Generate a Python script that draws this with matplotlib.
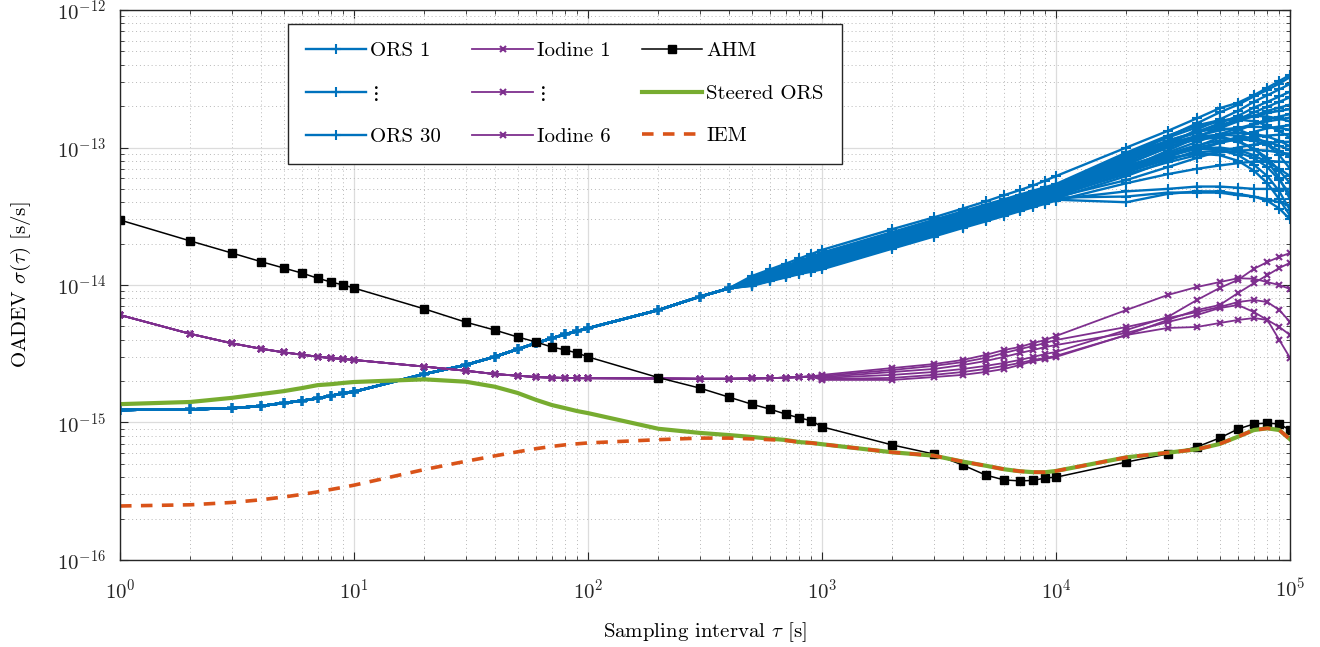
import matplotlib
matplotlib.use("Agg")
import matplotlib.pyplot as plt

plt.rcParams["font.family"] = "serif"
plt.rcParams["font.serif"] = ["cmr10", "DejaVu Serif"]
plt.rcParams["mathtext.fontset"] = "cm"
plt.rcParams["axes.formatter.use_mathtext"] = True

# sampling intervals [s]
tau = [1, 2, 3, 4, 5, 6, 7, 8, 9,
       10, 20, 30, 40, 50, 60, 70, 80, 90,
       100, 200, 300, 400, 500, 600, 700, 800, 900,
       1e3, 2e3, 3e3, 4e3, 5e3, 6e3, 7e3, 8e3, 9e3,
       1e4, 2e4, 3e4, 4e4, 5e4, 6e4, 7e4, 8e4, 9e4, 1e5]

# all deviations below are in units of 1e-15 s/s
ahm = [29.7, 20.9, 17.1, 14.8, 13.3, 12.2, 11.2, 10.5, 10.0,
       9.5, 6.7, 5.37, 4.7, 4.19, 3.85, 3.54, 3.37, 3.2,
       3.0, 2.12, 1.78, 1.53, 1.36, 1.25, 1.15, 1.08, 1.03,
       0.93, 0.686, 0.59, 0.49, 0.415, 0.382, 0.376, 0.379, 0.395,
       0.40, 0.516, 0.59, 0.664, 0.771, 0.897, 0.975, 0.99, 0.975, 0.88]

steered = [1.36, 1.41, 1.51, 1.61, 1.69, 1.78, 1.87, 1.90, 1.94,
           1.97, 2.06, 1.98, 1.82, 1.64, 1.46, 1.34, 1.27, 1.21,
           1.17, 0.90, 0.84, 0.81, 0.785, 0.763, 0.746, 0.72, 0.71,
           0.695, 0.607, 0.574, 0.519, 0.485, 0.457, 0.442, 0.435, 0.435,
           0.444, 0.558, 0.603, 0.638, 0.698, 0.789, 0.881, 0.907, 0.881, 0.755]

iem = [0.247, 0.252, 0.262, 0.274, 0.287, 0.300, 0.313, 0.326, 0.338,
       0.350, 0.455, 0.522, 0.572, 0.612, 0.645, 0.670, 0.688, 0.700,
       0.710, 0.750, 0.770, 0.770, 0.760, 0.750, 0.740, 0.720, 0.710,
       0.695, 0.607, 0.574, 0.519, 0.485, 0.457, 0.442, 0.435, 0.435,
       0.444, 0.558, 0.603, 0.638, 0.698, 0.789, 0.881, 0.907, 0.881, 0.755]

# iodine clocks: common part for tau = 1 .. 900, then one row per clock (tau = 1e3 .. 1e5)
iodine_short = [6.05, 4.41, 3.77, 3.44, 3.24, 3.11, 3.01, 2.94, 2.90,
                2.85, 2.55, 2.38, 2.25, 2.19, 2.14, 2.12, 2.11, 2.10,
                2.10, 2.09, 2.08, 2.08, 2.09, 2.10, 2.12, 2.14, 2.16]
iodine_long = [
    [2.22, 2.49, 2.66, 2.85, 3.10, 3.37, 3.54, 3.79, 3.98, 4.26, 6.58, 8.46, 9.67, 10.5, 11.2, 11.1, 10.5, 10.0, 9.35],
    [2.11, 2.22, 2.33, 2.45, 2.58, 2.71, 2.85, 3.00, 3.15, 3.26, 4.71, 5.85, 7.78, 9.51, 10.9, 13.1, 14.7, 16.0, 17.1],
    [2.04, 2.04, 2.14, 2.22, 2.33, 2.45, 2.62, 2.80, 2.90, 3.00, 4.33, 5.57, 6.58, 7.15, 8.75, 10.3, 11.8, 13.3, 14.5],
    [2.18, 2.41, 2.58, 2.75, 2.95, 3.20, 3.42, 3.60, 3.79, 3.98, 4.95, 5.75, 6.36, 6.92, 7.52, 7.78, 7.52, 6.58, 5.38],
    [2.14, 2.33, 2.45, 2.62, 2.80, 3.00, 3.20, 3.37, 3.54, 3.66, 4.48, 5.38, 6.05, 6.80, 7.15, 6.36, 5.57, 3.98, 2.95],
    [2.07, 2.11, 2.22, 2.33, 2.45, 2.58, 2.71, 2.85, 2.95, 3.05, 4.33, 4.87, 4.95, 5.29, 5.57, 5.75, 5.57, 4.95, 4.33],
]

# ORS clocks: common part for tau = 1 .. 400, then one row per clock (tau = 500 .. 1e5)
ors_short = [1.233, 1.247, 1.269, 1.318, 1.386, 1.440, 1.500, 1.566, 1.631,
             1.675, 2.253, 2.620, 3.010, 3.41, 3.78, 4.10, 4.38, 4.62,
             4.85, 6.58, 8.22, 9.46]
ors_long = [
    [11.6, 13.0, 14.3, 15.6, 16.8, 18.0, 25.5, 31.0, 36.0, 40.5, 45.0, 49.0, 53.0, 57.5, 62.0, 100, 132, 163, 193, 212, 240, 272, 305, 337],
    [10.9, 12.0, 13.1, 14.1, 15.1, 16.0, 22.5, 27.5, 32.0, 36.0, 40.0, 43.0, 46.0, 49.0, 52.0, 85, 120, 150, 180, 205, 235, 262, 292, 325],
    [10.7, 11.8, 12.8, 13.7, 14.6, 15.5, 22.0, 27.0, 31.0, 35.0, 38.0, 41.0, 44.0, 47.0, 50.0, 78, 105, 135, 160, 185, 215, 240, 265, 290],
    [11.2, 12.5, 13.7, 14.8, 15.9, 17.0, 24.0, 29.0, 33.5, 37.5, 41.0, 44.0, 47.0, 50.0, 53.0, 88, 112, 130, 150, 170, 195, 215, 235, 255],
    [10.4, 11.35, 12.2, 13.05, 13.8, 14.5, 20.5, 25.0, 29.0, 32.5, 35.5, 38.5, 41.0, 43.5, 46.0, 70, 95, 118, 140, 160, 180, 198, 215, 232],
    [10.55, 11.6, 12.55, 13.4, 14.25, 15.0, 21.0, 26.0, 30.0, 33.5, 36.5, 39.5, 42.5, 45.0, 47.5, 75, 100, 120, 138, 155, 170, 185, 195, 205],
    [10.9, 12.0, 13.1, 14.1, 15.1, 16.0, 22.5, 27.5, 32.0, 35.5, 39.0, 42.0, 45.0, 47.5, 50.0, 82, 110, 128, 145, 160, 168, 178, 185, 190],
    [10.2, 11.1, 11.9, 12.7, 13.4, 14.0, 19.8, 24.2, 28.0, 31.3, 34.2, 37.0, 39.5, 42.0, 44.0, 66, 85, 102, 118, 133, 148, 160, 168, 175],
    [10.6, 11.7, 12.6, 13.5, 14.4, 15.2, 21.5, 26.3, 30.4, 34.0, 37.2, 40.0, 43.0, 45.5, 48.0, 72, 92, 110, 125, 138, 148, 155, 160, 165],
    [11.2, 12.4, 13.6, 14.7, 15.8, 16.8, 23.8, 29.0, 33.5, 37.5, 41.0, 44.5, 47.5, 50.5, 53.0, 90, 118, 140, 155, 165, 170, 168, 162, 155],
    [10.0, 10.9, 11.65, 12.3, 12.95, 13.5, 19.0, 23.3, 27.0, 30.2, 33.0, 35.7, 38.2, 40.5, 42.7, 62, 80, 95, 108, 120, 130, 138, 142, 145],
    [10.8, 11.95, 12.95, 13.95, 14.9, 15.8, 22.3, 27.3, 31.5, 35.3, 38.6, 41.8, 44.6, 47.3, 50.0, 80, 105, 122, 133, 140, 142, 140, 138, 135],
    [10.45, 11.5, 12.4, 13.3, 14.1, 14.8, 21.0, 25.6, 29.6, 33.0, 36.2, 39.0, 41.8, 44.4, 46.8, 70, 88, 100, 108, 115, 120, 122, 124, 125],
    [11.3, 12.6, 13.8, 15.0, 16.1, 17.2, 24.3, 29.8, 34.4, 38.5, 42.0, 45.5, 48.6, 51.5, 54.3, 92, 122, 145, 158, 160, 155, 145, 132, 118],
    [10.1, 11.0, 11.8, 12.55, 13.2, 13.8, 19.5, 23.9, 27.6, 30.8, 33.8, 36.5, 39.0, 41.4, 43.6, 58, 72, 84, 94, 100, 105, 108, 110, 110],
    [10.65, 11.75, 12.75, 13.7, 14.6, 15.4, 21.8, 26.7, 30.8, 34.4, 37.7, 40.7, 43.5, 46.2, 48.7, 76, 100, 115, 125, 128, 126, 120, 112, 102],
    [10.95, 12.15, 13.2, 14.25, 15.25, 16.2, 22.9, 28.0, 32.4, 36.2, 39.7, 42.9, 45.8, 48.6, 51.2, 84, 108, 120, 124, 122, 116, 110, 103, 96],
    [10.25, 11.2, 12.05, 12.85, 13.55, 14.2, 20.0, 24.6, 28.4, 31.8, 34.8, 37.6, 40.2, 42.6, 44.9, 64, 78, 88, 92, 95, 96, 95, 92, 90],
    [10.55, 11.6, 12.55, 13.4, 14.25, 15.0, 21.2, 26.0, 30.0, 33.5, 36.7, 39.7, 42.4, 45.0, 47.4, 72, 90, 104, 112, 115, 112, 105, 95, 85],
    [9.85, 10.65, 11.35, 12.0, 12.5, 13.0, 18.4, 22.5, 26.0, 29.0, 31.8, 34.4, 36.8, 39.0, 41.1, 55, 64, 70, 74, 77, 79, 80, 79, 78],
    [11.1, 12.3, 13.45, 14.55, 15.6, 16.6, 23.5, 28.7, 33.2, 37.1, 40.7, 43.9, 47.0, 49.8, 52.5, 86, 112, 130, 138, 135, 122, 105, 88, 70],
    [10.4, 11.35, 12.2, 13.05, 13.8, 14.5, 20.5, 25.1, 29.0, 32.4, 35.5, 38.4, 41.0, 43.5, 45.9, 68, 86, 98, 100, 96, 88, 78, 70, 62],
    [10.75, 11.85, 12.85, 13.85, 14.75, 15.6, 22.0, 27.0, 31.2, 34.9, 38.2, 41.3, 44.1, 46.8, 49.3, 80, 102, 115, 118, 110, 98, 84, 68, 55],
    [9.95, 10.8, 11.55, 12.2, 12.8, 13.3, 18.8, 23.0, 26.6, 29.7, 32.6, 35.2, 37.6, 39.9, 42.0, 48, 50, 52, 52, 51, 50, 50, 50, 50],
    [10.2, 11.1, 11.9, 12.7, 13.4, 14.0, 19.8, 24.2, 28.0, 31.3, 34.3, 37.0, 39.6, 42.0, 44.3, 66, 82, 92, 95, 92, 84, 72, 58, 46],
    [11.0, 12.25, 13.35, 14.4, 15.4, 16.4, 23.2, 28.4, 32.8, 36.7, 40.2, 43.4, 46.4, 49.2, 51.9, 84, 106, 118, 120, 112, 98, 80, 60, 42],
    [10.1, 11.0, 11.75, 12.5, 13.1, 13.7, 19.4, 23.7, 27.4, 30.6, 33.5, 36.2, 38.7, 41.1, 43.3, 44, 47, 47, 47, 45, 44, 42, 40, 38],
    [10.6, 11.7, 12.6, 13.5, 14.4, 15.2, 21.5, 26.3, 30.4, 34.0, 37.2, 40.2, 43.0, 45.6, 48.0, 74, 90, 98, 96, 88, 75, 62, 48, 35],
    [10.4, 11.4, 12.3, 13.1, 13.9, 14.6, 20.6, 25.3, 29.2, 32.6, 35.7, 38.6, 41.3, 43.8, 46.2, 70, 84, 90, 88, 80, 68, 55, 42, 32],
    [9.9, 10.75, 11.45, 12.1, 12.7, 13.2, 18.7, 22.8, 26.4, 29.5, 32.3, 34.9, 37.3, 39.6, 41.7, 40, 46, 48, 48, 46, 44, 41, 36, 30],
]

unit = 1e-15
c_ors = "#0072BD"
c_iod = "#7E2F8E"
c_ahm = "black"
c_steer = "#77AC30"
c_iem = "#D95319"

fig = plt.figure(figsize=(13.2, 6.47), dpi=100)
ax = fig.add_axes([0.0909, 0.1345, 0.8864, 0.85])

ors_lines = []
for row in ors_long:
    y = [v * unit for v in ors_short + row]
    l, = ax.plot(tau, y, color=c_ors, lw=1.7, marker="+", ms=7, mew=1.5)
    ors_lines.append(l)

iod_lines = []
for row in iodine_long:
    y = [v * unit for v in iodine_short + row]
    l, = ax.plot(tau, y, color=c_iod, lw=1.3, marker="x", ms=4.5, mew=1.5)
    iod_lines.append(l)

l_ahm, = ax.plot(tau, [v * unit for v in ahm], color=c_ahm, lw=1.1,
                 marker="s", ms=5.5)
l_steer, = ax.plot(tau, [v * unit for v in steered], color=c_steer, lw=3.0)
l_iem, = ax.plot(tau, [v * unit for v in iem], color=c_iem, lw=2.6,
                 dashes=(3.2, 2.6))

ax.set_xscale("log")
ax.set_yscale("log")
ax.set_xlim(1, 1e5)
ax.set_ylim(1e-16, 1e-12)

ax.grid(True, which="major", color="#dcdcdc", lw=0.9, ls="-")
ax.grid(True, which="minor", color="#b8b8b8", lw=0.7, ls=(0, (1, 3)))
ax.set_axisbelow(True)
ax.tick_params(which="both", direction="in", top=True, right=True,
               labelsize=15, colors="#262626")
ax.tick_params(axis="x", which="major", length=6, pad=13)
ax.tick_params(axis="y", which="major", length=6, pad=10)
ax.tick_params(which="minor", length=3)
for s in ax.spines.values():
    s.set_color("#262626")
    s.set_linewidth(1.0)

ax.set_xlabel(r"Sampling interval $\tau$ [s]", fontsize=15, labelpad=13)
ax.set_ylabel(r"OADEV $\sigma(\tau)$ [s/s]", fontsize=15, labelpad=17)

handles = [ors_lines[0], ors_lines[1], ors_lines[-1],
           iod_lines[0], iod_lines[1], iod_lines[-1],
           l_ahm, l_steer, l_iem]
labels = ["ORS 1", r"$\vdots$", "ORS 30",
          "Iodine 1", r"$\vdots$", "Iodine 6",
          "AHM", "Steered ORS", "IEM"]
leg = ax.legend(handles, labels, ncol=3, loc="upper left",
                bbox_to_anchor=(0.1436, 0.9745), fontsize=15,
                handlelength=2.9, labelspacing=1.15, columnspacing=1.5,
                handletextpad=0.2, borderpad=0.85, borderaxespad=0,
                fancybox=False, framealpha=1, edgecolor="#262626")
leg.get_frame().set_linewidth(1.0)

fig.savefig("out.png", dpi=100)
